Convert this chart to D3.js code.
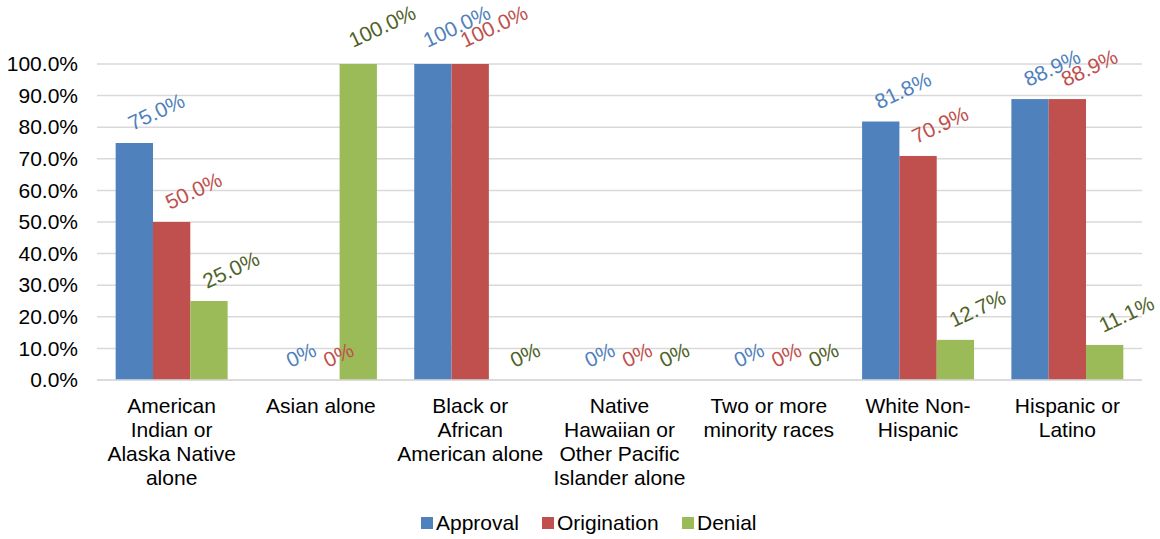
<!DOCTYPE html>
<html>
    <head>
        <meta charset="utf-8">
        <title>Approval, origination and denial rates</title>
        <script type="text/javascript" src="https://d3js.org/d3.v7.min.js"></script>
        <style>
            body { margin: 0; background: #fff; }
            svg text { font-family: "Liberation Sans", Arial, sans-serif; }
        </style>
    </head>
    <body>
        <script>
            // données
            var categories = [
                ["American", "Indian or", "Alaska Native", "alone"],
                ["Asian alone"],
                ["Black or", "African", "American alone"],
                ["Native", "Hawaiian or", "Other Pacific", "Islander alone"],
                ["Two or more", "minority races"],
                ["White Non-", "Hispanic"],
                ["Hispanic or", "Latino"]
            ];
            var seriesNames = ["Approval", "Origination", "Denial"];
            var approval    = [0.75, 0, 1, 0, 0, 0.818, 0.889];
            var origination = [0.50, 0, 1, 0, 0, 0.709, 0.889];
            var denial      = [0.25, 1, 0, 0, 0, 0.127, 0.111];
            var yTicks = [0, 0.1, 0.2, 0.3, 0.4, 0.5, 0.6, 0.7, 0.8, 0.9, 1];

            var series = [approval, origination, denial];
            var barColors = ["#4F81BD", "#C0504D", "#9BBB59"];
            var labelColors = ["#4F81BD", "#C0504D", "#4F6228"];

            var W = 1160, H = 539;
            var margin = { top: 64, right: 18, bottom: 159, left: 97 };
            var width = W - margin.left - margin.right,
                height = H - margin.top - margin.bottom;
            var fs = "21px";

            var svg = d3.select("body").append("svg")
                .attr("width", W)
                .attr("height", H);

            var canvas = svg.append("g")
                .attr("transform", "translate(" + margin.left + "," + margin.top + ")");

            var x0 = d3.scaleBand()
                .domain(d3.range(categories.length))
                .range([0, width])
                .padding(0);

            var bw = x0.bandwidth();
            var x1 = d3.scaleBand()
                .domain(d3.range(series.length))
                .range([bw / 8, bw * 7 / 8])
                .padding(0);

            var y = d3.scaleLinear()
                .domain([0, 1])
                .range([height, 0]);

            // grille horizontale
            canvas.append("g")
                .selectAll("line")
                .data(yTicks)
                .enter()
                .append("line")
                .attr("x1", 0)
                .attr("x2", width)
                .attr("y1", function(d) { return y(d); })
                .attr("y2", function(d) { return y(d); })
                .attr("stroke", "#d9d9d9")
                .attr("stroke-width", 1.5);

            // axe vertical (étiquettes seulement)
            var yAxis = d3.axisLeft(y)
                .tickValues(yTicks)
                .tickFormat(d3.format(".1%"))
                .tickSize(0)
                .tickPadding(19);

            var gy = canvas.append("g").call(yAxis);
            gy.select(".domain").remove();
            gy.selectAll("text")
                .style("font-family", "'Liberation Sans', Arial, sans-serif")
                .attr("font-size", fs)
                .attr("fill", "#000");

            // barres
            var groups = canvas.selectAll(".grp")
                .data(categories)
                .enter()
                .append("g")
                .attr("class", "grp")
                .attr("transform", function(d, i) { return "translate(" + x0(i) + ",0)"; });

            groups.each(function(c, i) {
                var g = d3.select(this);
                series.forEach(function(s, j) {
                    var v = s[i];
                    if (v > 0) {
                        g.append("rect")
                            .attr("x", x1(j))
                            .attr("y", y(v))
                            .attr("width", x1.bandwidth())
                            .attr("height", height - y(v))
                            .attr("fill", barColors[j]);
                    }
                });
            });

            // étiquettes de valeurs, tournées
            groups.each(function(c, i) {
                var g = d3.select(this);
                series.forEach(function(s, j) {
                    var v = s[i];
                    var txt = v === 0 ? "0%" : d3.format(".1%")(v);
                    var cx = x1(j) + x1.bandwidth() / 2;
                    var t = g.append("text")
                        .attr("font-size", fs)
                        .attr("fill", labelColors[j])
                        .text(txt);
                    var L = t.node().getComputedTextLength();
                    var px = cx + 16 - 0.3 * L,
                        py = y(v) - 12 - (v === 1 ? 4 : 0);
                    t.attr("transform", "translate(" + px + "," + py + ") rotate(-25)");
                });
            });

            // axe horizontal
            canvas.append("line")
                .attr("x1", 0)
                .attr("x2", width)
                .attr("y1", height)
                .attr("y2", height)
                .attr("stroke", "#d9d9d9")
                .attr("stroke-width", 1.5);

            var catLabels = canvas.selectAll(".cat")
                .data(categories)
                .enter()
                .append("text")
                .attr("class", "cat")
                .attr("text-anchor", "middle")
                .attr("font-size", fs)
                .attr("fill", "#000")
                .attr("x", function(d, i) { return x0(i) + bw / 2; })
                .attr("y", height + 33);

            catLabels.selectAll("tspan")
                .data(function(d) { return d; })
                .enter()
                .append("tspan")
                .attr("x", function() { return d3.select(this.parentNode).attr("x"); })
                .attr("dy", function(d, k) { return k === 0 ? 0 : 24; })
                .text(function(d) { return d; });

            // légende
            var legendX = [421, 542, 682];
            var legend = svg.selectAll(".leg")
                .data(seriesNames)
                .enter()
                .append("g")
                .attr("class", "leg")
                .attr("transform", function(d, i) { return "translate(" + legendX[i] + ",517)"; });

            legend.append("rect")
                .attr("width", 12)
                .attr("height", 12)
                .attr("fill", function(d, i) { return barColors[i]; });

            legend.append("text")
                .attr("x", 15)
                .attr("y", 13)
                .attr("font-size", fs)
                .attr("fill", "#000")
                .text(function(d) { return d; });
        </script>
    </body>
</html>
